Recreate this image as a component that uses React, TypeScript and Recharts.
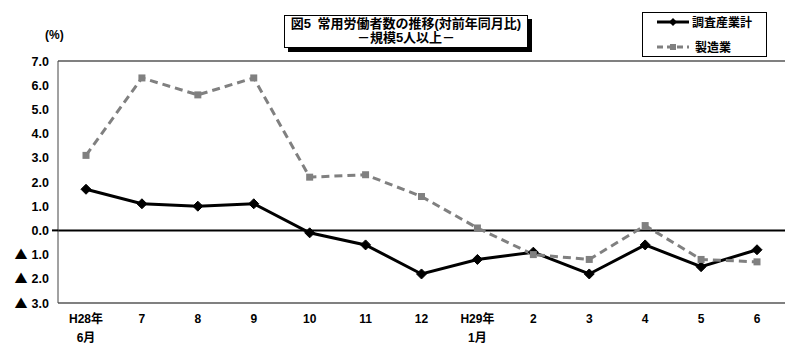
import React from "react";
import {
  LineChart,
  Line,
  XAxis,
  YAxis,
  CartesianGrid,
  ReferenceLine,
} from "recharts";

const tickLine1 = ["H28年", "7", "8", "9", "10", "11", "12", "H29年", "2", "3", "4", "5", "6"];
const tickLine2 = ["6月", "", "", "", "", "", "", "1月", "", "", "", "", ""];
const totalIndustry = [1.7, 1.1, 1.0, 1.1, -0.1, -0.6, -1.8, -1.2, -0.9, -1.8, -0.6, -1.5, -0.8];
const manufacturing = [3.1, 6.3, 5.6, 6.3, 2.2, 2.3, 1.4, 0.1, -1.0, -1.2, 0.2, -1.2, -1.3];
const yTicks = [-3, -2, -1, 0, 1, 2, 3, 4, 5, 6, 7];

const seriesTotalName = "調査産業計";
const seriesMfgName = "製造業";
const titleLine1 = "図5\u2002常用労働者数の推移(対前年同月比)";
const titleLine2 = "－規模5人以上－";
const unitLabel = "(%)";

const data = tickLine1.map((t, i) => ({
  key: String(i),
  l1: t,
  l2: tickLine2[i],
  total: totalIndustry[i],
  mfg: manufacturing[i],
}));

const FONT = "'Liberation Sans', 'Noto Sans CJK JP', sans-serif";
const CJK = "'Noto Sans CJK JP', sans-serif";

const YTick = (props: any) => {
  const { x, y, payload } = props;
  const v = payload.value as number;
  const num = Math.abs(v).toFixed(1);
  return (
    <g>
      <text
        x={x - 1}
        y={y}
        dy={4.5}
        textAnchor="end"
        fontFamily={FONT}
        fontWeight="bold"
        fontSize={12.5}
        fill="#000"
      >
        {v < 0 ? (
          <tspan fontFamily={CJK} fontSize={13}>
            ▲
          </tspan>
        ) : null}
        {v < 0 ? <tspan dx={4}>{num}</tspan> : num}
      </text>
      {v === 0 ? (
        <line x1={x + 2} x2={x + 8} y1={y} y2={y} stroke="#000" strokeWidth={2} />
      ) : null}
    </g>
  );
};

const RightTick = (props: any) => {
  const { x, y, payload } = props;
  if (payload.value !== 0) return <g />;
  return <line x1={x - 8} x2={x + 5} y1={y} y2={y} stroke="#000" strokeWidth={2} />;
};

const XTick = (props: any) => {
  const { x, y, payload, index } = props;
  const d = data[index] || data[Number(payload.value)];
  return (
    <g>
      <text
        x={x}
        y={y + 12}
        textAnchor="middle"
        fontFamily={FONT}
        fontWeight="bold"
        fontSize={12}
        fill="#000"
      >
        {d.l1}
      </text>
      {d.l2 ? (
        <text
          x={x}
          y={y + 31}
          textAnchor="middle"
          fontFamily={FONT}
          fontWeight="bold"
          fontSize={12}
          fill="#000"
        >
          {d.l2}
        </text>
      ) : null}
    </g>
  );
};

const Diamond = (props: any) => {
  const { cx, cy } = props;
  if (cx == null || cy == null) return <g />;
  const r = 5;
  return (
    <polygon
      points={`${cx},${cy - r} ${cx + r},${cy} ${cx},${cy + r} ${cx - r},${cy}`}
      fill="#000"
      stroke="#000"
    />
  );
};

const Square = (props: any) => {
  const { cx, cy } = props;
  if (cx == null || cy == null) return <g />;
  const s = 7;
  return <rect x={cx - s / 2} y={cy - s / 2} width={s} height={s} fill="#808080" />;
};

export default function App() {
  return (
    <div style={{ position: "absolute", left: 0, top: 0, width: 800, height: 356, background: "#fff" }}>
      <LineChart
        width={800}
        height={356}
        data={data}
        margin={{ top: 61, right: 15, bottom: 13, left: 0 }}
      >
        <CartesianGrid horizontal vertical={false} stroke="#000" strokeWidth={1} />
        <XAxis
          dataKey="key"
          height={40}
          axisLine={false}
          tickLine={false}
          interval={0}
          padding={{ left: 28, right: 28 }}
          tick={<XTick />}
        />
        <YAxis
          yAxisId="left"
          width={58}
          domain={[-3, 7]}
          ticks={yTicks}
          interval={0}
          axisLine={{ stroke: "#444" }}
          tickLine={false}
          tick={<YTick />}
        />
        <YAxis
          yAxisId="right"
          orientation="right"
          width={0}
          domain={[-3, 7]}
          ticks={yTicks}
          interval={0}
          axisLine={{ stroke: "#808080" }}
          tickLine={false}
          tick={<RightTick />}
        />
        <ReferenceLine yAxisId="left" y={7} stroke="#808080" strokeWidth={1.5} />
        <ReferenceLine yAxisId="left" y={-3} stroke="#808080" strokeWidth={1.5} />
        <ReferenceLine yAxisId="left" y={0} stroke="#000" strokeWidth={2} />
        <Line
          yAxisId="left"
          dataKey="total"
          name={seriesTotalName}
          stroke="#000"
          strokeWidth={3}
          dot={<Diamond />}
          activeDot={false}
          isAnimationActive={false}
        />
        <Line
          yAxisId="left"
          dataKey="mfg"
          name={seriesMfgName}
          stroke="#808080"
          strokeWidth={3}
          strokeDasharray="8 5"
          dot={<Square />}
          activeDot={false}
          isAnimationActive={false}
        />
      </LineChart>

      <div
        style={{
          position: "absolute",
          left: 45,
          top: 28,
          fontFamily: FONT,
          fontWeight: "bold",
          fontSize: 12,
          color: "#000",
        }}
      >
        {unitLabel}
      </div>

      <div
        style={{
          position: "absolute",
          left: 284,
          top: 15,
          width: 242,
          height: 30,
          border: "1px solid #000",
          boxShadow: "4px 4px 0 #000",
          background: "#fff",
          fontFamily: FONT,
          fontWeight: "bold",
          fontSize: 13,
          lineHeight: "14px",
          textAlign: "center",
          color: "#000",
          paddingTop: 1,
          boxSizing: "content-box",
        }}
      >
        <div style={{ whiteSpace: "nowrap" }}>{titleLine1}</div>
        <div style={{ whiteSpace: "nowrap" }}>{titleLine2}</div>
      </div>

      <div
        style={{
          position: "absolute",
          left: 642,
          top: 12,
          width: 123,
          height: 43,
          border: "1px solid #000",
          background: "#fff",
          fontFamily: FONT,
          fontWeight: "bold",
          fontSize: 12,
          color: "#000",
        }}
      >
        <svg width={123} height={43} style={{ position: "absolute", left: 0, top: 0 }}>
          <line x1={14} x2={46} y1={9} y2={9} stroke="#000" strokeWidth={3} />
          <polygon points="30,5 34,9 30,13 26,9" fill="#000" />
          <line x1={14} x2={46} y1={34} y2={34} stroke="#808080" strokeWidth={3} strokeDasharray="6 4" />
          <rect x={27} y={31} width={6} height={6} fill="#808080" />
          <text x={49} y={13.5} fontFamily={FONT} fontWeight="bold" fontSize={12} fill="#000">
            {seriesTotalName}
          </text>
          <text x={52} y={39} fontFamily={FONT} fontWeight="bold" fontSize={12} fill="#000">
            {seriesMfgName}
          </text>
        </svg>
      </div>
    </div>
  );
}
